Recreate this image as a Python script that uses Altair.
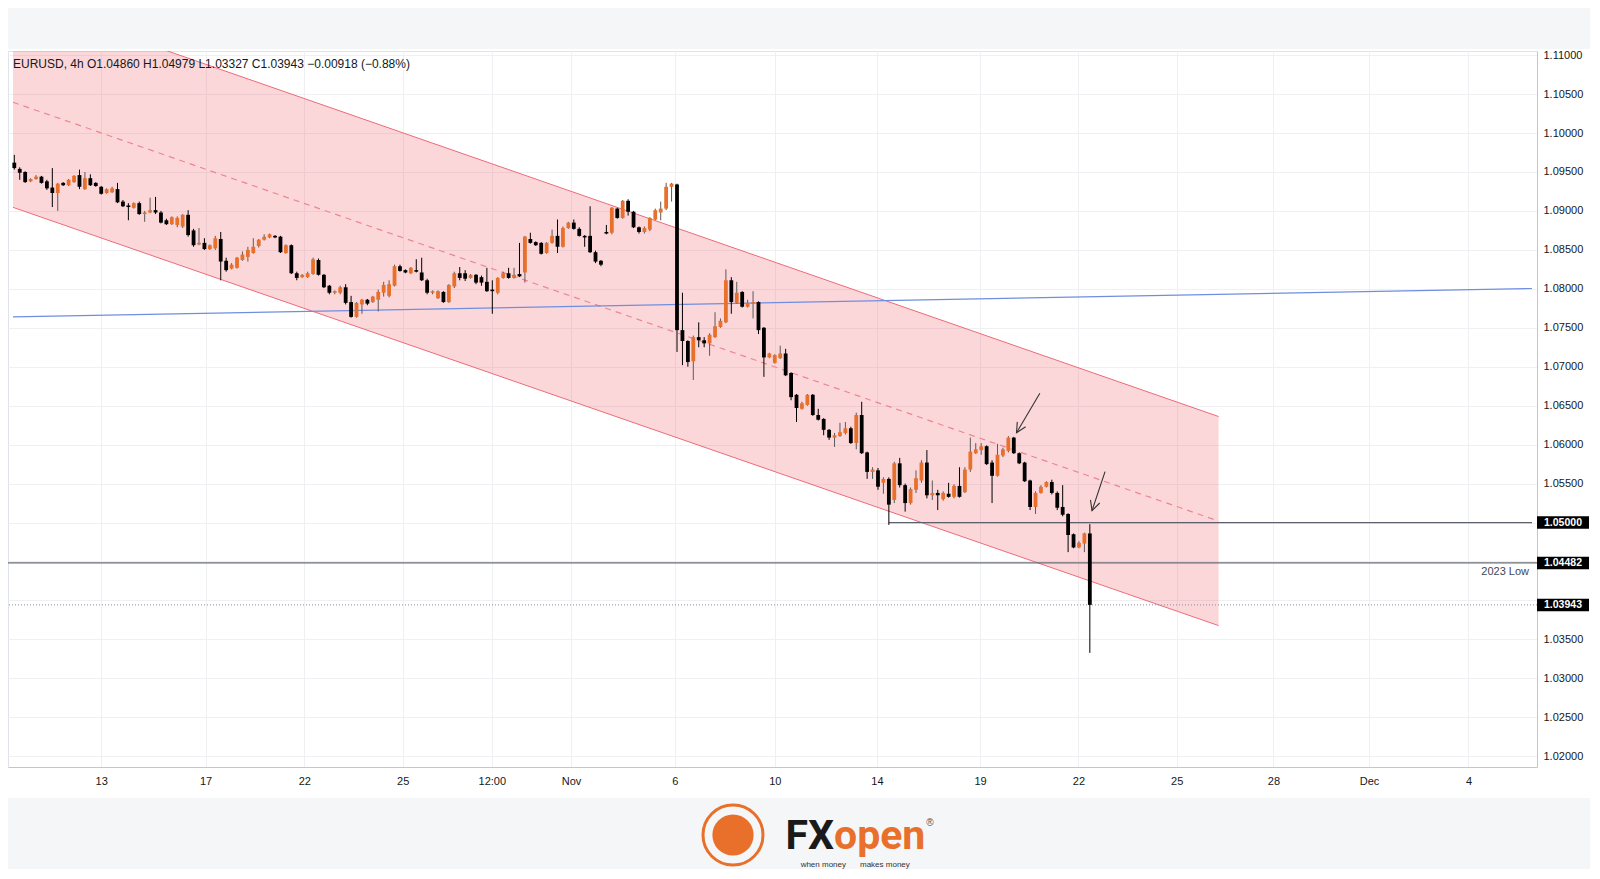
import json
import altair as alt
import pandas as pd

# ---------------- data ----------------
symbol = "EURUSD"
timeframe = "4h"

opens = [
    1.0962, 1.0954, 1.0950, 1.0938, 1.0941, 1.0944, 1.0938, 1.0930, 1.0923, 1.0936,
    1.0933, 1.0937, 1.0946, 1.0928, 1.0942, 1.0936, 1.0931, 1.0923, 1.0924, 1.0928,
    1.0912, 1.0907, 1.0904, 1.0910, 1.0896, 1.0898, 1.0901, 1.0898, 1.0888, 1.0883,
    1.0882, 1.0880, 1.0895, 1.0875, 1.0857, 1.0859, 1.0851, 1.0852, 1.0864, 1.0836,
    1.0826, 1.0827, 1.0837, 1.0841, 1.0846, 1.0855, 1.0863, 1.0866, 1.0868, 1.0867,
    1.0846, 1.0856, 1.0820, 1.0815, 1.0815, 1.0819, 1.0837, 1.0818, 1.0804, 1.0795,
    1.0795, 1.0802, 1.0783, 1.0764, 1.0780, 1.0786, 1.0783, 1.0786, 1.0795, 1.0791,
    1.0804, 1.0829, 1.0824, 1.0820, 1.0824, 1.0821, 1.0811, 1.0795, 1.0788, 1.0796,
    1.0783, 1.0803, 1.0820, 1.0820, 1.0814, 1.0818, 1.0815, 1.0809, 1.0799, 1.0795,
    1.0814, 1.0820, 1.0814, 1.0819, 1.0821, 1.0864, 1.0860, 1.0859, 1.0846, 1.0859,
    1.0868, 1.0854, 1.0878, 1.0885, 1.0877, 1.0868, 1.0868, 1.0847, 1.0836, 1.0873,
    1.0872, 1.0903, 1.0891, 1.0913, 1.0899, 1.0879, 1.0873, 1.0876, 1.0889, 1.0898,
    1.0903, 1.0931, 1.0934, 1.0747, 1.0733, 1.0707, 1.0738, 1.0734, 1.0730, 1.0738,
    1.0751, 1.0757, 1.0811, 1.0782, 1.0796, 1.0777, 1.0781, 1.0783, 1.0750, 1.0712,
    1.0705, 1.0711, 1.0717, 1.0692, 1.0664, 1.0646, 1.0651, 1.0664, 1.0638, 1.0633,
    1.0619, 1.0609, 1.0611, 1.0615, 1.0621, 1.0602, 1.0638, 1.0590, 1.0565, 1.0567,
    1.0551, 1.0556, 1.0529, 1.0576, 1.0548, 1.0525, 1.0542, 1.0554, 1.0577, 1.0535,
    1.0538, 1.0530, 1.0537, 1.0533, 1.0547, 1.0539, 1.0568, 1.0589, 1.0593, 1.0598,
    1.0577, 1.0560, 1.0586, 1.0592, 1.0609, 1.0589, 1.0577, 1.0554, 1.0520, 1.0538,
    1.0546, 1.0552, 1.0538, 1.0520, 1.0511, 1.0485, 1.0468, 1.0473, 1.04860,
]
highs = [
    1.0972, 1.0956, 1.0951, 1.0942, 1.0946, 1.0945, 1.0940, 1.0955, 1.0936, 1.0937,
    1.0941, 1.0946, 1.0953, 1.0950, 1.0947, 1.0937, 1.0932, 1.0929, 1.0931, 1.0936,
    1.0914, 1.0910, 1.0911, 1.0912, 1.0900, 1.0917, 1.0918, 1.0900, 1.0890, 1.0893,
    1.0893, 1.0896, 1.0901, 1.0877, 1.0878, 1.0865, 1.0857, 1.0868, 1.0873, 1.0840,
    1.0833, 1.0841, 1.0848, 1.0854, 1.0865, 1.0864, 1.0870, 1.0871, 1.0869, 1.0868,
    1.0857, 1.0857, 1.0822, 1.0819, 1.0822, 1.0840, 1.0839, 1.0819, 1.0805, 1.0798,
    1.0804, 1.0806, 1.0791, 1.0783, 1.0787, 1.0787, 1.0791, 1.0799, 1.0809, 1.0811,
    1.0831, 1.0831, 1.0825, 1.0828, 1.0838, 1.0840, 1.0813, 1.0798, 1.0798, 1.0797,
    1.0806, 1.0822, 1.0828, 1.0824, 1.0819, 1.0819, 1.0817, 1.0827, 1.0811, 1.0815,
    1.0822, 1.0827, 1.0827, 1.0859, 1.0868, 1.0872, 1.0861, 1.0860, 1.0860, 1.0876,
    1.0889, 1.0880, 1.0886, 1.0889, 1.0879, 1.0869, 1.0906, 1.0849, 1.0837, 1.0882,
    1.0905, 1.0904, 1.0914, 1.0915, 1.0900, 1.0880, 1.0880, 1.0892, 1.0903, 1.0912,
    1.0936, 1.0936, 1.0935, 1.0795, 1.0734, 1.0740, 1.0757, 1.0738, 1.0743, 1.0770,
    1.0762, 1.0825, 1.0815, 1.0809, 1.0797, 1.0786, 1.0797, 1.0784, 1.0751, 1.0718,
    1.0716, 1.0727, 1.0723, 1.0693, 1.0665, 1.0655, 1.0665, 1.0665, 1.0646, 1.0634,
    1.0620, 1.0615, 1.0628, 1.0629, 1.0623, 1.0641, 1.0655, 1.0591, 1.0571, 1.0570,
    1.0558, 1.0558, 1.0578, 1.0583, 1.0550, 1.0545, 1.0567, 1.0580, 1.0593, 1.0554,
    1.0542, 1.0540, 1.0551, 1.0549, 1.0571, 1.0571, 1.0609, 1.0602, 1.0602, 1.0599,
    1.0580, 1.0601, 1.0596, 1.0611, 1.0610, 1.0590, 1.0578, 1.0555, 1.0540, 1.0548,
    1.0553, 1.0555, 1.0540, 1.0548, 1.0512, 1.0486, 1.0476, 1.0487, 1.04979,
]
lows = [
    1.0953, 1.0940, 1.0936, 1.0937, 1.0940, 1.0935, 1.0927, 1.0905, 1.0900, 1.0932,
    1.0932, 1.0936, 1.0928, 1.0927, 1.0932, 1.0931, 1.0921, 1.0922, 1.0923, 1.0910,
    1.0905, 1.0888, 1.0903, 1.0895, 1.0886, 1.0897, 1.0896, 1.0884, 1.0882, 1.0882,
    1.0879, 1.0878, 1.0867, 1.0854, 1.0856, 1.0850, 1.0850, 1.0850, 1.0811, 1.0822,
    1.0825, 1.0826, 1.0836, 1.0835, 1.0845, 1.0853, 1.0862, 1.0865, 1.0865, 1.0846,
    1.0845, 1.0819, 1.0811, 1.0814, 1.0814, 1.0818, 1.0817, 1.0801, 1.0793, 1.0793,
    1.0793, 1.0780, 1.0763, 1.0763, 1.0768, 1.0779, 1.0782, 1.0771, 1.0790, 1.0789,
    1.0803, 1.0822, 1.0820, 1.0819, 1.0821, 1.0810, 1.0793, 1.0793, 1.0787, 1.0782,
    1.0782, 1.0801, 1.0811, 1.0810, 1.0813, 1.0806, 1.0804, 1.0796, 1.0768, 1.0793,
    1.0813, 1.0813, 1.0813, 1.0815, 1.0808, 1.0858, 1.0855, 1.0844, 1.0845, 1.0858,
    1.0846, 1.0853, 1.0877, 1.0876, 1.0867, 1.0854, 1.0846, 1.0833, 1.0829, 1.0870,
    1.0870, 1.0890, 1.0890, 1.0894, 1.0878, 1.0871, 1.0871, 1.0874, 1.0888, 1.0888,
    1.0901, 1.0912, 1.0719, 1.0702, 1.0700, 1.0683, 1.0725, 1.0725, 1.0714, 1.0737,
    1.0750, 1.0756, 1.0768, 1.0781, 1.0776, 1.0776, 1.0762, 1.0742, 1.0687, 1.0711,
    1.0704, 1.0710, 1.0688, 1.0657, 1.0629, 1.0645, 1.0650, 1.0637, 1.0631, 1.0612,
    1.0606, 1.0597, 1.0610, 1.0613, 1.0601, 1.0594, 1.0588, 1.0556, 1.0556, 1.0542,
    1.0537, 1.0497, 1.0525, 1.0545, 1.0514, 1.0523, 1.0538, 1.0551, 1.0531, 1.0529,
    1.0516, 1.0528, 1.0532, 1.0531, 1.0532, 1.0538, 1.0565, 1.0588, 1.0587, 1.0574,
    1.0525, 1.0559, 1.0584, 1.0590, 1.0588, 1.0575, 1.0552, 1.0516, 1.0511, 1.0537,
    1.0545, 1.0536, 1.0516, 1.0508, 1.0462, 1.0467, 1.0467, 1.0462, 1.03327,
]
closes = [
    1.0955, 1.0949, 1.0937, 1.0941, 1.0944, 1.0936, 1.0929, 1.0923, 1.0935, 1.0933,
    1.0940, 1.0945, 1.0931, 1.0942, 1.0933, 1.0932, 1.0922, 1.0928, 1.0929, 1.0911,
    1.0906, 1.0905, 1.0910, 1.0896, 1.0898, 1.0901, 1.0898, 1.0885, 1.0883, 1.0892,
    1.0891, 1.0895, 1.0869, 1.0856, 1.0859, 1.0851, 1.0856, 1.0865, 1.0835, 1.0824,
    1.0831, 1.0840, 1.0844, 1.0850, 1.0854, 1.0863, 1.0867, 1.0870, 1.0866, 1.0847,
    1.0856, 1.0820, 1.0814, 1.0818, 1.0820, 1.0838, 1.0818, 1.0802, 1.0795, 1.0797,
    1.0802, 1.0782, 1.0764, 1.0782, 1.0786, 1.0781, 1.0790, 1.0796, 1.0805, 1.0806,
    1.0829, 1.0823, 1.0821, 1.0827, 1.0822, 1.0811, 1.0795, 1.0797, 1.0797, 1.0783,
    1.0805, 1.0820, 1.0814, 1.0813, 1.0818, 1.0808, 1.0808, 1.0797, 1.0797, 1.0814,
    1.0820, 1.0814, 1.0818, 1.0816, 1.0867, 1.0859, 1.0856, 1.0845, 1.0859, 1.0868,
    1.0854, 1.0878, 1.0885, 1.0877, 1.0868, 1.0866, 1.0847, 1.0835, 1.0831, 1.0871,
    1.0904, 1.0891, 1.0913, 1.0899, 1.0879, 1.0873, 1.0878, 1.0891, 1.0901, 1.0903,
    1.0931, 1.0935, 1.0747, 1.0733, 1.0706, 1.0738, 1.0734, 1.0730, 1.0741, 1.0752,
    1.0759, 1.0811, 1.0783, 1.0795, 1.0777, 1.0782, 1.0783, 1.0747, 1.0712, 1.0717,
    1.0715, 1.0717, 1.0689, 1.0661, 1.0647, 1.0653, 1.0664, 1.0638, 1.0632, 1.0619,
    1.0609, 1.0612, 1.0616, 1.0621, 1.0602, 1.0638, 1.0589, 1.0565, 1.0568, 1.0546,
    1.0556, 1.0523, 1.0576, 1.0548, 1.0525, 1.0543, 1.0557, 1.0577, 1.0535, 1.0538,
    1.0535, 1.0538, 1.0533, 1.0547, 1.0533, 1.0568, 1.0591, 1.0594, 1.0598, 1.0575,
    1.0560, 1.0587, 1.0594, 1.0609, 1.0589, 1.0576, 1.0553, 1.0520, 1.0538, 1.0546,
    1.0552, 1.0538, 1.0519, 1.0510, 1.0484, 1.0468, 1.0474, 1.04861, 1.03943,
]

# time axis: candle-index positions of the date labels
tick_pos = [16.0, 35.2, 53.4, 71.5, 87.9, 102.5, 121.6, 140.0, 158.8, 177.8,
            195.9, 214.0, 231.8, 249.4, 267.7]
tick_lab = ["13", "17", "22", "25", "12:00", "Nov", "6", "10", "14", "19",
            "22", "25", "28", "Dec", "4"]

price_ticks = [1.020, 1.025, 1.030, 1.035, 1.040, 1.045, 1.050, 1.055, 1.060,
               1.065, 1.070, 1.075, 1.080, 1.085, 1.090, 1.095, 1.100, 1.105, 1.110]
# price labels hidden behind the highlighted price boxes
hidden_ticks = [1.040, 1.045, 1.050]

x_domain = [-0.24, 279.4]
y_domain = [1.01862, 1.11053]

# descending channel (index, price)
chan_x = [-0.24, 221.7]
chan_upper = [1.11743, 1.06361]
chan_lower = [1.09046, 1.03677]
chan_mid = [1.10395, 1.05019]

# blue trend line
trend_x = [-0.24, 279.4]
trend_y = [1.07639, 1.08004]

# horizontal levels
round_level = 1.05000
round_level_start = 161
low_2023 = 1.04482
low_2023_label = "2023 Low"

# arrows (start -> tip)
arrow_x0 = [188.8, 200.8]
arrow_y0 = [1.06659, 1.05653]
arrow_x1 = [184.5, 198.4]
arrow_y1 = [1.06153, 1.05152]
arrow_angle = [30.7, 18.4]

# ---------------- frames ----------------
n = len(opens)
df = pd.DataFrame({"i": list(range(n)), "open": opens, "high": highs,
                   "low": lows, "close": closes})
df["dir"] = ["up" if c >= o else "down" for o, c in zip(opens, closes)]

last_close = closes[-1]
chg = closes[-1] - closes[-2]
pct = chg / closes[-2] * 100
sign = "−" if chg < 0 else "+"
header = (f"{symbol}, {timeframe}  O{opens[-1]:.5f}  H{highs[-1]:.5f}  "
          f"L{lows[-1]:.5f}  C{closes[-1]:.5f}  {sign}{abs(chg):.5f} ({sign}{abs(pct):.2f}%)")

df_chan = pd.DataFrame({"x": chan_x, "up": chan_upper, "lo": chan_lower, "mid": chan_mid})
df_trend = pd.DataFrame({"x": trend_x, "y": trend_y})
df_round = pd.DataFrame({"x0": [round_level_start], "x1": [x_domain[1]], "p": [round_level]})
df_low = pd.DataFrame({"p": [low_2023], "t": [low_2023_label]})
df_last = pd.DataFrame({"p": [last_close]})
df_arrows = pd.DataFrame({"x0": arrow_x0, "y0": arrow_y0, "x1": arrow_x1,
                          "y1": arrow_y1, "ang": arrow_angle})
df_boxes = pd.DataFrame({"p": [round_level, low_2023, last_close]})
df_boxes["label"] = [f"{v:.5f}" for v in df_boxes["p"]]
one = pd.DataFrame({"a": [0]})
df_header = pd.DataFrame({"t": [header]})

# ---------------- encodings ----------------
FONT = "Liberation Sans"
ORANGE = "#e8702a"

xs = alt.Scale(domain=x_domain, nice=False, zero=False)
ys = alt.Scale(domain=y_domain, nice=False, zero=False)

x_label_expr = f"{json.dumps(tick_lab)}[indexof({json.dumps(tick_pos)}, datum.value)]"
y_label_expr = (f"indexof({json.dumps(hidden_ticks)}, datum.value) >= 0 ? '' : "
                f"format(datum.value, '.5f')")

x_axis = alt.Axis(values=tick_pos, labelExpr=x_label_expr, title=None, ticks=False,
                  labelPadding=8, labelFontSize=11, labelColor="#131722",
                  labelFont=FONT, grid=True, gridColor="#eef0f4",
                  domainColor="#c3c6ce", labelFlush=False, labelOverlap=False)
y_axis = alt.Axis(orient="right", values=price_ticks, labelExpr=y_label_expr, title=None,
                  ticks=False, labelPadding=6, labelFontSize=11,
                  labelColor="#131722", labelFont=FONT, grid=True,
                  gridColor="#eef0f4", domainColor="#c3c6ce", labelOverlap=False)


def X(f):
    return alt.X(f"{f}:Q", scale=xs, axis=x_axis)


def Y(f):
    return alt.Y(f"{f}:Q", scale=ys, axis=y_axis)


is_up = alt.datum.dir == "up"
body_color = alt.condition(is_up, alt.value(ORANGE), alt.value("#000000"))
wick_color = alt.condition(is_up, alt.value("#5a5a5a"), alt.value("#000000"))

# ---------------- layers ----------------
top_band = alt.Chart(one).mark_rect(color="#f5f6f8").encode(
    x=alt.value(-8), x2=alt.value(1600), y=alt.value(-60), y2=alt.value(-2))
bottom_band = alt.Chart(one).mark_rect(color="#f5f6f8").encode(
    x=alt.value(-8), x2=alt.value(1600), y=alt.value(747), y2=alt.value(840))

chan_fill = alt.Chart(df_chan).mark_area(color="#f23645", opacity=0.2, clip=True).encode(
    x=X("x"), y=Y("lo"), y2=alt.Y2("up"))
chan_up = alt.Chart(df_chan).mark_line(color="#ee6b78", strokeWidth=1, clip=True).encode(
    x=X("x"), y=Y("up"))
chan_lo = alt.Chart(df_chan).mark_line(color="#ee6b78", strokeWidth=1, clip=True).encode(
    x=X("x"), y=Y("lo"))
chan_md = alt.Chart(df_chan).mark_line(color="#ec8791", strokeWidth=1.2,
                                       strokeDash=[6, 5], clip=True).encode(
    x=X("x"), y=Y("mid"))

trend = alt.Chart(df_trend).mark_line(color="#6f8ee0", strokeWidth=1.2).encode(
    x=X("x"), y=Y("y"))

round_rule = alt.Chart(df_round).mark_rule(color="#5d606b", strokeWidth=1.2).encode(
    x=X("x0"), x2=alt.X2("x1"), y=Y("p"))
low_rule = alt.Chart(df_low).mark_rule(color="#6a6d78", strokeWidth=1.2).encode(y=Y("p"))
last_rule = alt.Chart(df_last).mark_rule(color="#8a8d96", strokeWidth=1,
                                         strokeDash=[1, 2]).encode(y=Y("p"))

wicks = alt.Chart(df).mark_rule(strokeWidth=1).encode(
    x=X("i"), y=Y("low"), y2=alt.Y2("high"), color=wick_color)
bodies = alt.Chart(df).mark_bar(size=3.8).encode(
    x=X("i"), y=Y("open"), y2=alt.Y2("close"), color=body_color)

arrow_lines = alt.Chart(df_arrows).mark_rule(color="#333333", strokeWidth=1.1).encode(
    x=X("x0"), y=Y("y0"), x2=alt.X2("x1"), y2=alt.Y2("y1"))
arrow_heads = alt.Chart(df_arrows).mark_point(
    shape="M-0.5,-1L0,0L0.5,-1", filled=False, size=380, strokeWidth=1.1,
    color="#333333", opacity=1).encode(
    x=X("x1"), y=Y("y1"), angle=alt.Angle("ang:Q", scale=None))

boxes = alt.Chart(df_boxes).mark_point(
    shape="M-1,-0.24H1V0.24H-1Z", filled=True, size=2704, color="#000000",
    opacity=1, strokeWidth=0).encode(x=alt.value(1555), y=Y("p"))
box_text = alt.Chart(df_boxes).mark_text(
    color="white", fontSize=10.5, fontWeight="bold", font=FONT).encode(
    x=alt.value(1555), y=Y("p"), text="label:N")

low_text = alt.Chart(df_low).mark_text(
    align="right", dy=9, fontSize=11, color="#434651", font=FONT).encode(
    x=alt.value(1521), y=Y("p"), text="t:N")

header_text = alt.Chart(df_header).mark_text(
    align="left", baseline="middle", fontSize=12, color="#131722", font=FONT).encode(
    x=alt.value(5), y=alt.value(13), text="t:N")

# logo
logo_ring = alt.Chart(one).mark_point(shape="circle", filled=False, size=3600,
                                      strokeWidth=3, color=ORANGE, opacity=1).encode(
    x=alt.value(725), y=alt.value(784))
logo_core = alt.Chart(one).mark_point(shape="circle", filled=True, size=1700,
                                      color=ORANGE, opacity=1).encode(
    x=alt.value(725), y=alt.value(784))
logo_fx = alt.Chart(pd.DataFrame({"t": ["FX"]})).mark_text(
    align="right", baseline="alphabetic", fontSize=41, fontWeight="bold",
    font="Roboto", color="#1a1a1a").encode(x=alt.value(826), y=alt.value(798), text="t:N")
logo_open = alt.Chart(pd.DataFrame({"t": ["open"]})).mark_text(
    align="left", baseline="alphabetic", fontSize=41, fontWeight="bold",
    font="Roboto", color=ORANGE).encode(x=alt.value(826), y=alt.value(798), text="t:N")
logo_r = alt.Chart(pd.DataFrame({"t": ["®"]})).mark_text(
    fontSize=10, color="#555555", font=FONT).encode(x=alt.value(922), y=alt.value(772), text="t:N")
logo_tag1 = alt.Chart(pd.DataFrame({"t": ["when money"]})).mark_text(
    align="right", fontSize=8, color="#333333", font=FONT).encode(
    x=alt.value(838), y=alt.value(814), text="t:N")
logo_tag2 = alt.Chart(pd.DataFrame({"t": ["makes money"]})).mark_text(
    align="left", fontSize=8, color="#333333", font=FONT).encode(
    x=alt.value(852), y=alt.value(814), text="t:N")

chart = alt.layer(
    top_band, bottom_band,
    chan_fill, chan_up, chan_lo, chan_md,
    trend, round_rule, low_rule, last_rule,
    wicks, bodies,
    arrow_lines, arrow_heads,
    boxes, box_text, low_text, header_text,
    logo_ring, logo_core, logo_fx, logo_open, logo_r, logo_tag1, logo_tag2,
).properties(
    width=1529, height=716,
    padding={"left": 0, "top": 43, "right": 53, "bottom": 102},
    autosize=alt.AutoSizeParams(type="none"),
    background="white",
).configure_view(stroke="#e0e3eb", strokeWidth=1)

chart.save("out.html", embed_options={"renderer": "svg", "actions": False})
